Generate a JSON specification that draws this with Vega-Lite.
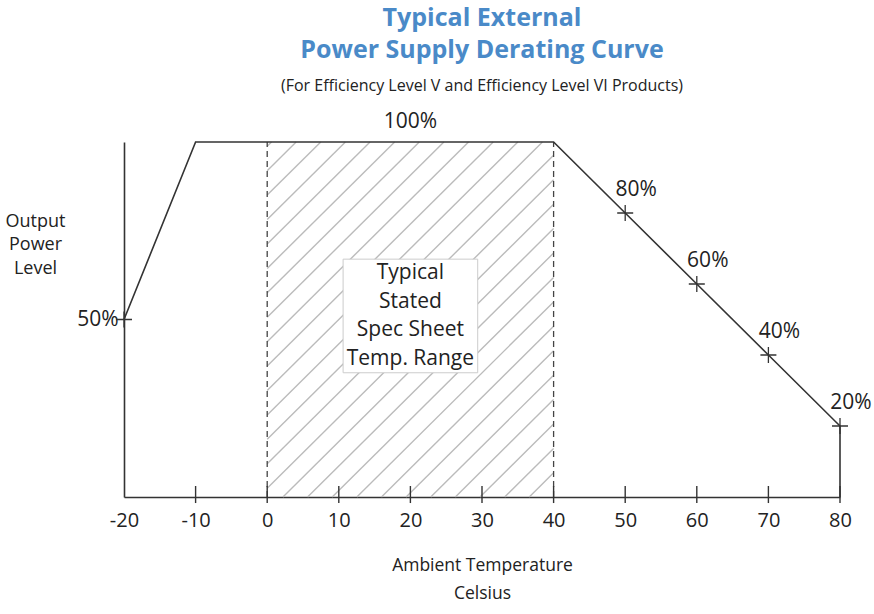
{
  "$schema": "https://vega.github.io/schema/vega-lite/v6.json",
  "width": 716,
  "height": 355,
  "autosize": "none",
  "padding": {"left": 124, "top": 142, "right": 34, "bottom": 117},
  "title": {
    "text": ["Typical External", "Power Supply Derating Curve"],
    "subtitle": "(For Efficiency Level V and Efficiency Level VI Products)",
    "anchor": "middle",
    "font": "Open Sans",
    "fontSize": 25,
    "fontWeight": "bold",
    "color": "#4a8ac8",
    "lineHeight": 32,
    "subtitleFont": "Open Sans",
    "subtitleFontSize": 16,
    "subtitleColor": "#222222",
    "subtitlePadding": 15,
    "offset": 17
  },
  "config": {
    "view": {"stroke": null},
    "font": "Open Sans",
    "text": {"font": "Open Sans"}
  },
  "datasets": {
    "hatch": [
      {"x": 0, "y": 98.8, "x2": 0.6, "y2": 100},
      {"x": 0, "y": 91.92, "x2": 4.04, "y2": 100},
      {"x": 0, "y": 85.04, "x2": 7.48, "y2": 100},
      {"x": 0, "y": 78.16, "x2": 10.92, "y2": 100},
      {"x": 0, "y": 71.28, "x2": 14.36, "y2": 100},
      {"x": 0, "y": 64.4, "x2": 17.8, "y2": 100},
      {"x": 0, "y": 57.52, "x2": 21.24, "y2": 100},
      {"x": 0, "y": 50.64, "x2": 24.68, "y2": 100},
      {"x": 0, "y": 43.76, "x2": 28.12, "y2": 100},
      {"x": 0, "y": 36.88, "x2": 31.56, "y2": 100},
      {"x": 0, "y": 30, "x2": 35, "y2": 100},
      {"x": 0, "y": 23.12, "x2": 38.44, "y2": 100},
      {"x": 0, "y": 16.24, "x2": 40, "y2": 96.24},
      {"x": 0, "y": 9.36, "x2": 40, "y2": 89.36},
      {"x": 0, "y": 2.48, "x2": 40, "y2": 82.48},
      {"x": 2.2, "y": 0, "x2": 40, "y2": 75.6},
      {"x": 5.64, "y": 0, "x2": 40, "y2": 68.72},
      {"x": 9.08, "y": 0, "x2": 40, "y2": 61.84},
      {"x": 12.52, "y": 0, "x2": 40, "y2": 54.96},
      {"x": 15.96, "y": 0, "x2": 40, "y2": 48.08},
      {"x": 19.4, "y": 0, "x2": 40, "y2": 41.2},
      {"x": 22.84, "y": 0, "x2": 40, "y2": 34.32},
      {"x": 26.28, "y": 0, "x2": 40, "y2": 27.44},
      {"x": 29.72, "y": 0, "x2": 40, "y2": 20.56},
      {"x": 33.16, "y": 0, "x2": 40, "y2": 13.68},
      {"x": 36.6, "y": 0, "x2": 40, "y2": 6.8}
    ],
    "curve": [
      {"i": 1, "x": -20, "y": 50},
      {"i": 2, "x": -10, "y": 100},
      {"i": 3, "x": 40, "y": 100},
      {"i": 4, "x": 50, "y": 80},
      {"i": 5, "x": 60, "y": 60},
      {"i": 6, "x": 70, "y": 40},
      {"i": 7, "x": 80, "y": 20},
      {"i": 8, "x": 80, "y": 0}
    ],
    "points": [
      {"x": -20, "y": 50, "label": ""},
      {"x": 50, "y": 80, "label": "80%"},
      {"x": 60, "y": 60, "label": "60%"},
      {"x": 70, "y": 40, "label": "40%"},
      {"x": 80, "y": 20, "label": "20%"}
    ],
    "dashes": [{"x": 0}, {"x": 40}],
    "ticks": [{"x": -10}, {"x": 0}, {"x": 10}, {"x": 20}, {"x": 30}, {"x": 40}, {"x": 50}, {"x": 60}, {"x": 70}, {"x": 80}],
    "box": [{"x": 10.6, "x2": 29.4, "y": 35, "y2": 67, "label": "Typical\nStated\nSpec Sheet\nTemp. Range", "cx": 20, "cy": 63.1}],
    "top": [{"x": 20, "y": 100, "label": "100%"}]
  },
  "layer": [
    {
      "data": {"name": "hatch"},
      "mark": {"type": "rule", "color": "#bbbbbb", "strokeWidth": 1.4},
      "encoding": {
        "x": {"field": "x", "type": "quantitative", "scale": {"domain": [-20, 80], "nice": false, "zero": false},
          "axis": {"values": [-20, -10, 0, 10, 20, 30, 40, 50, 60, 70, 80], "labelExpr": "datum.value < 0 ? '-' + abs(datum.value) : '' + datum.value",
            "labelFlush": false, "labelBound": false, "labelOverlap": false,
            "ticks": false, "grid": false, "domainColor": "#333333", "domainWidth": 1.6,
            "labelFontSize": 20, "labelColor": "#222222", "labelPadding": 13, "labelFont": "Open Sans",
            "title": ["Ambient Temperature", "Celsius"], "titleFont": "Open Sans", "titleFontSize": 17.5, "titleFontWeight": "normal", "titleColor": "#222222", "titlePadding": 26, "titleLineHeight": 28}},
        "y": {"field": "y", "type": "quantitative", "scale": {"domain": [0, 100], "nice": false},
          "axis": {"values": [50], "labelExpr": "datum.value + '%'", "ticks": false, "grid": false, "domainColor": "#333333", "domainWidth": 1.6,
            "labelFontSize": 21, "labelColor": "#222222", "labelPadding": 6, "labelFont": "Open Sans",
            "title": ["Output", "Power", "Level"], "titleFont": "Open Sans", "titleFontSize": 18, "titleFontWeight": "normal", "titleColor": "#222222",
            "titleAngle": 0, "titleAlign": "center", "titleBaseline": "top", "titleX": -89, "titleY": 70, "titleLineHeight": 23.5}},
        "x2": {"field": "x2"},
        "y2": {"field": "y2"}
      }
    },
    {
      "data": {"name": "dashes"},
      "mark": {"type": "rule", "color": "#444444", "strokeWidth": 1.3, "strokeDash": [6, 4]},
      "encoding": {
        "x": {"field": "x", "type": "quantitative"},
        "y": {"datum": 0, "type": "quantitative"},
        "y2": {"datum": 100}
      }
    },
    {
      "data": {"name": "box"},
      "mark": {"type": "rect", "fill": "white", "stroke": "#cccccc", "strokeWidth": 1},
      "encoding": {
        "x": {"field": "x", "type": "quantitative"},
        "x2": {"field": "x2"},
        "y": {"field": "y", "type": "quantitative"},
        "y2": {"field": "y2"}
      }
    },
    {
      "data": {"name": "box"},
      "mark": {"type": "text", "fontSize": 21, "color": "#222222", "align": "center", "baseline": "middle", "lineBreak": "\n", "lineHeight": 28.7},
      "encoding": {
        "x": {"field": "cx", "type": "quantitative"},
        "y": {"field": "cy", "type": "quantitative"},
        "text": {"field": "label"}
      }
    },
    {
      "data": {"name": "curve"},
      "mark": {"type": "line", "color": "#333333", "strokeWidth": 1.6},
      "encoding": {
        "x": {"field": "x", "type": "quantitative"},
        "y": {"field": "y", "type": "quantitative"},
        "order": {"field": "i", "type": "quantitative"}
      }
    },
    {
      "data": {"name": "ticks"},
      "mark": {"type": "rule", "color": "#333333", "strokeWidth": 1.4},
      "encoding": {
        "x": {"field": "x", "type": "quantitative"},
        "y": {"datum": -1.7, "type": "quantitative"},
        "y2": {"datum": 3.1}
      }
    },
    {
      "data": {"name": "points"},
      "mark": {"type": "point", "shape": "M-1,0H1M0,-1V1", "filled": false, "stroke": "#333333", "strokeWidth": 1.3, "size": 256, "opacity": 1},
      "encoding": {
        "x": {"field": "x", "type": "quantitative"},
        "y": {"field": "y", "type": "quantitative"}
      }
    },
    {
      "data": {"name": "points"},
      "mark": {"type": "text", "fontSize": 21, "color": "#222222", "align": "center", "baseline": "middle", "dx": 11, "dy": -23},
      "encoding": {
        "x": {"field": "x", "type": "quantitative"},
        "y": {"field": "y", "type": "quantitative"},
        "text": {"field": "label"}
      }
    },
    {
      "data": {"name": "top"},
      "mark": {"type": "text", "fontSize": 21, "color": "#222222", "align": "center", "baseline": "middle", "dy": -20},
      "encoding": {
        "x": {"field": "x", "type": "quantitative"},
        "y": {"field": "y", "type": "quantitative"},
        "text": {"field": "label"}
      }
    }
  ]
}
